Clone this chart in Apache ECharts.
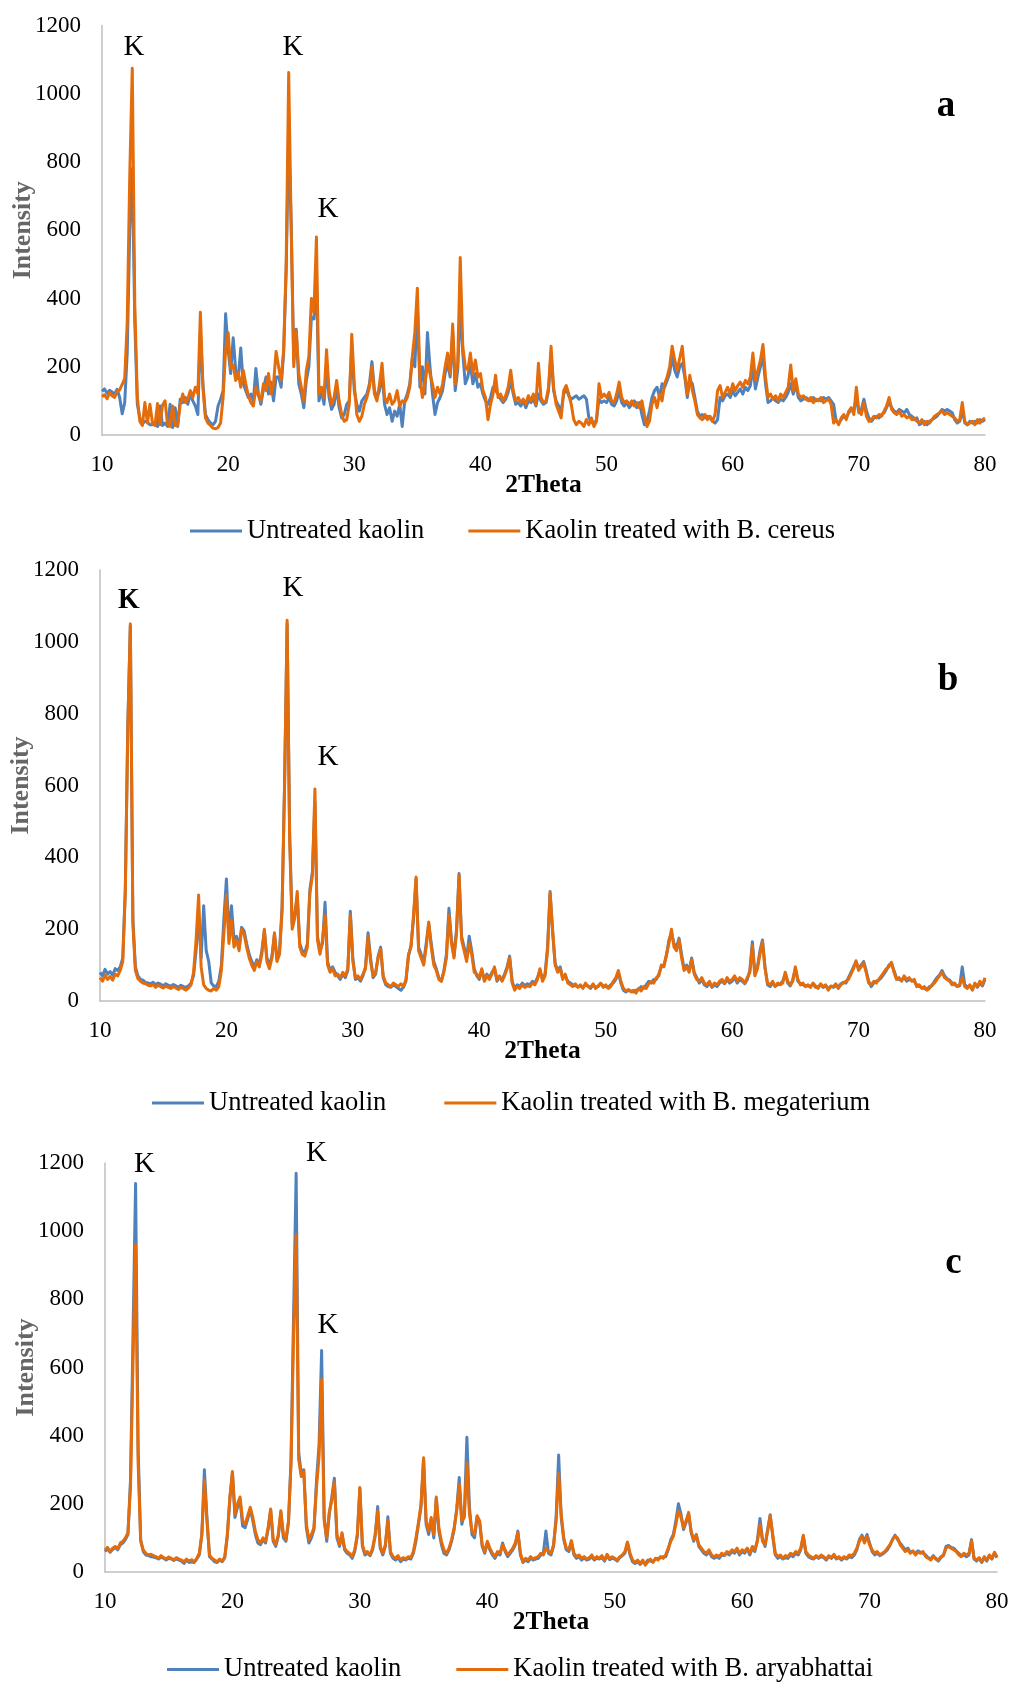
<!DOCTYPE html>
<html><head><meta charset="utf-8">
<script src="https://cdn.jsdelivr.net/npm/echarts@6/dist/echarts.min.js"></script>
<style>html,body{margin:0;padding:0;background:#fff}#c{width:1015px;height:1685px}</style>
</head><body><div id="c"></div><script>
// 2Theta sampling grid: 10.0 .. 80.0 step 0.2 (351 points)
const twoTheta = [];
for (let i = 0; i <= 350; i++) twoTheta.push(Math.round((10 + 0.2 * i) * 10) / 10);

const yTicks = [0, 200, 400, 600, 800, 1000, 1200];
const xTicks = [10, 20, 30, 40, 50, 60, 70, 80];

// ---------- panel a ----------
const aUntreated = [
128,135,122,131,126,120,134,110,62,95,
240,600,780,330,90,50,32,40,38,30,
30,38,25,85,28,35,25,90,22,80,
25,105,95,110,90,120,100,85,60,300,
150,60,45,35,30,40,85,105,130,355,
250,180,285,190,165,255,150,130,110,120,
100,195,120,90,135,170,120,155,100,170,
170,140,240,480,880,620,220,310,150,120,
80,160,200,345,340,470,100,130,90,200,
110,75,90,140,80,50,60,90,100,260,
130,90,70,100,110,120,150,215,130,110,
130,180,90,60,80,40,70,55,90,25,
100,120,150,225,200,380,140,200,120,300,
200,120,60,95,110,130,180,210,170,300,
130,190,380,240,150,170,210,150,180,140,
150,120,100,90,110,140,130,120,105,95,
105,125,160,120,90,95,85,100,80,100,
95,105,85,120,100,90,95,130,240,130,
100,85,70,120,135,115,105,110,115,105,
110,115,105,50,40,30,45,105,95,100,
95,110,90,85,100,130,95,85,95,80,
90,100,80,95,60,30,40,70,110,130,
140,110,150,140,160,180,230,190,170,200,
210,170,110,160,150,110,70,55,60,50,
55,50,40,35,45,110,100,115,120,110,
130,115,125,135,120,140,130,145,200,135,
170,200,230,150,95,100,110,100,95,105,
100,110,125,150,120,150,110,100,105,110,
105,100,110,100,105,100,110,105,110,100,
90,40,35,45,55,50,65,75,70,110,
65,75,105,70,50,40,50,55,50,60,
65,80,100,80,70,65,75,70,65,75,
60,55,45,50,30,35,40,30,40,45,
50,55,65,75,70,75,70,65,45,35,
40,75,35,30,40,35,40,35,45,40,45];
const aCereus = [
112,118,106,124,115,110,128,132,148,165,
330,760,1075,380,110,40,28,95,35,90,
35,28,92,30,88,100,30,25,85,28,
30,90,120,95,105,130,110,140,120,360,
140,50,35,28,20,18,22,35,110,250,
300,195,205,160,185,140,190,150,115,95,
85,140,115,100,150,130,180,120,150,245,
200,160,250,500,1062,600,200,305,180,140,
100,190,230,400,360,580,120,140,110,250,
130,90,110,160,100,60,40,45,90,295,
150,60,40,55,90,110,140,200,120,100,
150,210,110,95,120,90,100,130,85,100,
95,110,140,230,300,430,170,110,150,210,
180,150,110,140,120,150,200,240,180,325,
150,210,520,260,200,190,240,180,220,170,
180,130,110,45,90,120,175,110,120,100,
115,140,190,130,100,110,95,105,90,115,
100,120,90,210,110,95,100,140,260,140,
90,70,50,130,145,120,90,45,30,40,
35,25,45,30,50,25,40,150,110,120,
110,125,100,95,120,155,110,95,100,90,
100,85,95,80,100,60,25,40,90,110,
80,120,100,150,170,200,260,220,190,225,
260,180,120,175,130,100,60,50,45,60,
45,55,40,60,130,145,110,125,140,120,
150,130,145,155,140,160,150,170,240,160,
190,220,265,170,110,120,105,115,100,120,
110,125,140,205,130,165,120,110,115,105,
100,110,95,105,100,110,95,100,105,90,
35,45,30,50,60,45,70,80,60,140,
70,60,95,55,40,45,55,50,60,55,
70,85,110,75,65,60,70,55,60,50,
55,45,50,40,35,45,30,40,35,45,
55,60,65,70,60,65,60,55,50,40,
45,95,40,30,35,40,30,45,35,45,50];

// ---------- panel b ----------
const bUntreated = [
80,70,88,75,82,72,90,85,95,120,
310,770,1045,230,95,70,60,58,52,50,
48,52,45,50,47,42,48,44,41,46,
42,38,44,40,38,42,50,70,140,240,
120,265,140,110,50,42,40,55,100,230,
340,180,265,170,180,150,205,195,160,130,
110,95,115,100,140,195,120,100,125,185,
115,140,260,610,1050,470,215,240,290,160,
140,135,160,310,360,555,180,140,160,275,
110,85,95,80,70,60,75,65,85,250,
120,60,65,55,70,95,190,120,65,75,
125,150,65,45,40,38,45,40,35,30,
38,55,125,155,230,340,150,130,105,160,
215,160,110,90,65,55,85,130,258,170,
125,200,355,180,150,120,180,140,90,70,
60,85,60,75,65,80,90,55,65,60,
75,95,125,55,35,45,40,50,42,48,
45,55,50,65,85,60,75,150,305,190,
105,85,95,65,70,55,50,45,42,40,
42,38,45,42,35,45,38,40,48,42,
40,38,45,50,60,80,50,30,25,30,
28,25,30,32,40,35,45,55,50,60,
60,75,95,100,125,170,190,160,150,175,
130,90,100,85,120,80,65,50,60,45,
40,50,38,45,40,50,55,48,60,50,
55,65,50,60,55,48,60,85,165,75,
95,140,170,95,45,40,50,42,45,48,
55,75,50,42,60,90,55,48,45,42,
42,40,48,38,40,45,38,42,35,40,
38,42,40,48,52,50,65,80,95,110,
90,100,110,85,55,40,50,55,58,65,
75,85,100,105,85,65,60,58,65,55,
60,58,55,45,40,38,35,32,40,42,
55,65,72,85,70,62,58,50,45,42,
42,95,45,40,42,32,48,38,50,42,60];
const bMegaterium = [
65,55,72,60,68,58,75,70,85,110,
300,760,1050,215,85,62,55,50,48,44,
42,46,38,44,40,36,42,38,35,40,
36,32,38,34,30,36,45,80,170,295,
95,45,35,30,28,35,30,40,85,190,
295,160,225,150,170,140,200,185,150,120,
100,85,110,95,130,200,110,90,120,190,
110,130,250,600,1060,450,200,230,305,150,
130,125,150,300,350,590,170,130,170,240,
100,80,90,70,75,65,80,70,90,240,
110,65,70,60,75,90,180,110,70,80,
120,145,70,50,45,40,50,45,40,48,
40,60,130,150,240,345,140,120,100,150,
220,150,100,85,60,55,80,120,240,160,
120,190,350,170,140,110,160,130,80,75,
65,90,55,70,60,75,95,60,70,55,
70,90,120,50,30,40,35,45,38,42,
40,50,45,60,90,55,70,140,300,200,
100,80,90,60,75,50,45,40,48,38,
45,35,50,40,38,48,35,42,50,38,
45,35,40,55,65,85,55,35,28,32,
25,30,22,35,28,40,35,48,55,50,
65,70,100,95,130,160,200,150,140,170,
120,85,95,80,115,75,60,55,65,50,
45,55,40,50,45,55,60,50,65,55,
60,70,55,65,60,50,65,80,155,70,
90,130,165,90,50,45,55,40,50,45,
50,80,55,45,55,95,60,45,50,40,
45,38,50,42,35,48,40,45,30,42,
40,48,35,45,50,55,60,75,90,112,
85,95,105,80,50,45,55,50,60,70,
80,90,95,108,80,60,65,55,70,60,
65,55,60,40,45,35,40,30,35,45,
50,60,70,80,65,60,55,45,50,40,
45,65,40,35,45,30,50,40,55,45,65];

// ---------- panel c ----------
const cUntreated = [
60,68,58,66,72,65,80,85,95,110,
270,700,1140,360,95,60,50,48,45,44,
42,38,44,40,35,40,38,34,38,35,
32,25,35,28,30,28,38,50,110,300,
160,45,38,30,28,35,30,42,105,215,
290,160,190,210,135,130,155,185,150,110,
85,80,95,85,125,180,90,75,105,175,
100,90,145,330,760,1170,350,290,300,130,
85,100,125,270,375,650,160,90,170,220,
275,100,75,110,65,55,50,40,60,105,
245,75,50,55,48,65,105,192,70,50,
75,162,55,40,35,42,30,38,35,40,
38,55,90,140,190,330,140,110,155,100,
215,120,80,55,50,65,90,125,185,277,
140,170,395,190,110,100,160,145,75,55,
85,65,50,40,55,50,85,60,45,55,
65,80,120,50,28,35,30,40,35,38,
40,50,55,120,55,50,75,160,343,160,
95,65,60,88,50,40,45,35,42,35,
38,45,35,40,38,42,32,48,36,40,
38,32,42,48,55,85,50,30,25,30,
22,30,25,35,32,30,38,40,42,45,
45,65,95,110,150,200,170,125,145,170,
115,90,110,75,65,55,50,60,45,40,
45,40,50,48,55,50,60,55,65,50,
60,55,68,50,70,60,95,157,95,75,
125,168,105,50,40,45,38,42,40,50,
45,55,50,65,105,55,45,40,38,45,
40,45,42,35,45,40,48,38,42,35,
42,38,45,42,50,65,95,108,90,110,
85,60,50,55,48,52,58,65,78,95,
108,95,85,75,65,70,58,60,55,62,
58,55,50,42,38,48,38,32,42,48,
75,78,72,70,62,55,48,50,45,50,
95,38,32,40,28,42,32,48,38,55,42];
const cAryabhattai = [
65,72,60,70,75,68,85,90,100,115,
250,620,960,320,90,65,55,50,52,48,
45,40,48,42,38,44,40,36,42,38,
35,30,38,32,36,30,40,55,110,270,
150,50,40,35,30,38,32,45,110,220,
295,170,200,220,150,140,165,190,160,120,
95,85,100,90,130,185,95,80,110,180,
110,95,150,320,700,990,330,280,295,140,
95,110,130,250,340,565,150,100,175,210,
265,110,80,115,70,60,55,45,65,110,
248,80,55,60,50,70,110,178,75,55,
80,150,60,45,40,48,35,42,38,45,
42,60,100,145,200,335,150,120,160,110,
220,130,90,65,55,70,95,130,180,258,
150,160,320,170,120,110,165,150,80,60,
90,70,55,45,60,55,80,65,50,60,
70,85,115,55,30,40,35,45,38,42,
45,55,50,70,60,55,80,150,290,170,
100,70,65,92,55,45,50,40,45,38,
42,50,38,45,40,48,35,52,40,45,
40,35,45,50,60,88,55,35,28,35,
25,35,20,30,38,28,40,35,45,40,
50,70,90,105,140,180,160,130,150,175,
120,95,108,80,70,60,55,65,50,45,
50,45,55,50,60,55,65,60,70,55,
65,60,70,55,75,65,90,140,90,80,
120,165,110,55,45,50,40,48,45,55,
50,60,55,70,108,60,50,45,40,48,
42,50,45,38,48,42,52,40,45,38,
45,40,50,48,55,70,90,104,85,105,
80,65,55,60,50,55,60,70,80,95,
105,100,80,70,60,65,55,62,50,58,
55,60,45,40,35,45,40,35,45,50,
70,75,70,65,60,50,45,55,50,55,
90,40,35,42,30,45,35,50,40,58,45];

const seriesNames = {
  untreated: 'Untreated kaolin',
  a: 'Kaolin treated with B. cereus',
  b: 'Kaolin treated with B. megaterium',
  c: 'Kaolin treated with B. aryabhattai'
};
const peakLabel = 'K';
const panelLetters = ['a', 'b', 'c'];

// ---------- layout / style ----------
const FONT = "'Liberation Serif','Times New Roman',serif";
const BLUE = '#4F81BD', ORANGE = '#E46C0A', AXIS = '#BFBFBF';

const panels = [
  { grid:{left:102, top:25.5, width:883, height:409.5}, legend:{left:190, top:517.5, gap:44},
    data:[aUntreated, aCereus], treated: seriesNames.a,
    letter:[946, 106.5], ks:[[134,47],[293,47.5],[328,209.5]] },
  { grid:{left:100, top:570, width:885, height:431}, legend:{left:152, top:1089.5, gap:58},
    data:[bUntreated, bMegaterium], treated: seriesNames.b,
    letter:[948, 680.5], ks:[[128,600],[293,588],[328,757]] },
  { grid:{left:105, top:1163, width:892, height:409}, legend:{left:167, top:1656, gap:55},
    data:[cUntreated, cAryabhattai], treated: seriesNames.c,
    letter:[953.5, 1263], ks:[[144.5,1164],[316.5,1153],[328,1325]] }
];

const pairs = arr => twoTheta.map((t, i) => [t, arr[i]]);

const option = {
  animation: false,
  backgroundColor: '#fff',
  grid: panels.map(p => Object.assign({containLabel:false, outerBoundsMode:'none'}, p.grid)),
  xAxis: panels.map((p, i) => ({
    type:'value', gridIndex:i, min:xTicks[0], max:xTicks[xTicks.length-1], interval:10,
    name:'2Theta', nameLocation:'middle', nameGap:37, nameMoveOverlap:false,
    nameTextStyle:{fontFamily:FONT, fontSize:25.5, fontWeight:'bold', color:'#000'},
    axisLine:{show:true, onZero:false, lineStyle:{color:AXIS, width:1.5}},
    axisTick:{show:false}, splitLine:{show:false},
    axisLabel:{fontFamily:FONT, fontSize:23, color:'#000', margin:18, formatter: v => String(v)}
  })),
  yAxis: panels.map((p, i) => ({
    type:'value', gridIndex:i, min:yTicks[0], max:yTicks[yTicks.length-1], interval:200,
    name:'Intensity', nameLocation:'middle', nameGap:66, nameMoveOverlap:false,
    nameTextStyle:{fontFamily:FONT, fontSize:26, fontWeight:'bold', color:'#666666'},
    axisLine:{show:true, lineStyle:{color:AXIS, width:1.5}},
    axisTick:{show:false}, splitLine:{show:false},
    axisLabel:{fontFamily:FONT, fontSize:23, color:'#000', margin:21, formatter: v => String(v)}
  })),
  legend: panels.map(p => ({
    left:p.legend.left, top:p.legend.top, orient:'horizontal', padding:0,
    itemGap:p.legend.gap, itemWidth:52, itemHeight:3, icon:'rect', selectedMode:false,
    textStyle:{fontFamily:FONT, fontSize:26.5, color:'#000'},
    data:[{name:seriesNames.untreated, itemStyle:{color:BLUE}}, {name:p.treated, itemStyle:{color:ORANGE}}]
  })),
  series: [],
  graphic: []
};

panels.forEach((p, i) => {
  option.series.push({
    name:seriesNames.untreated, type:'line', xAxisIndex:i, yAxisIndex:i,
    data:pairs(p.data[0]), showSymbol:false, symbol:'none', z:2,
    lineStyle:{color:BLUE, width:3, join:'round'}, itemStyle:{color:BLUE}
  });
  option.series.push({
    name:p.treated, type:'line', xAxisIndex:i, yAxisIndex:i,
    data:pairs(p.data[1]), showSymbol:false, symbol:'none', z:3,
    lineStyle:{color:ORANGE, width:3, join:'round'}, itemStyle:{color:ORANGE}
  });
  p.ks.forEach(k => {
    option.graphic.push({type:'text', x:k[0], y:k[1], z:10,
      style:{text:peakLabel, fill:'#000', font:'29px ' + FONT, align:'center', verticalAlign:'middle',
             textAlign:'center', textVerticalAlign:'middle'}});
  });
  if (i === 1) { // doubled-looking K in panel b
    option.graphic.push({type:'text', x:p.ks[0][0] + 1.5, y:p.ks[0][1], z:10,
      style:{text:peakLabel, fill:'#000', font:'29px ' + FONT, align:'center', verticalAlign:'middle',
             textAlign:'center', textVerticalAlign:'middle'}});
  }
  option.graphic.push({type:'text', x:p.letter[0], y:p.letter[1], z:10,
    style:{text:panelLetters[i], fill:'#000', font:'bold 37px ' + FONT, align:'center', verticalAlign:'middle',
           textAlign:'center', textVerticalAlign:'middle'}});
});

const chart = echarts.init(document.getElementById('c'), null, {renderer:'canvas'});
chart.setOption(option);
</script></body></html>
